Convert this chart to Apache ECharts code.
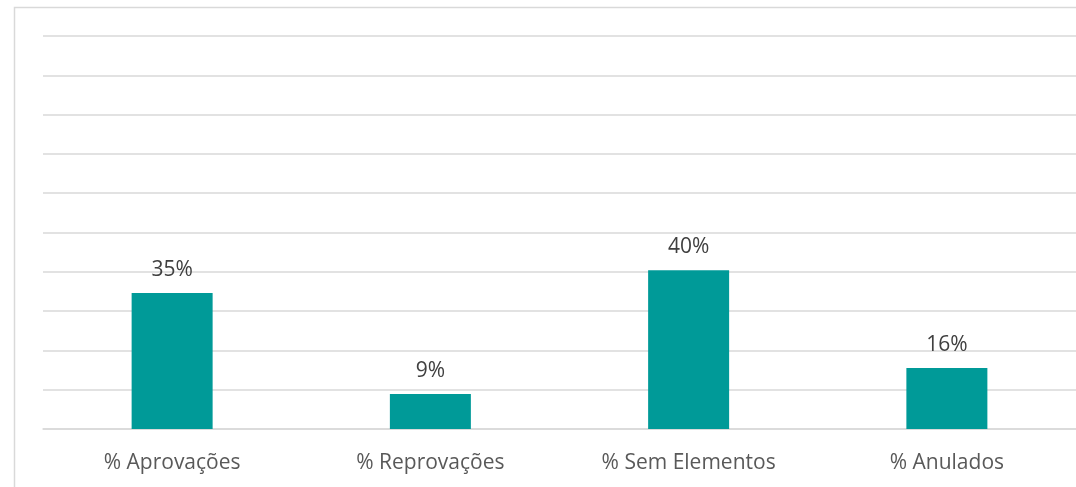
<!DOCTYPE html>
<html>
<head>
<meta charset="utf-8">
<style>
html,body{margin:0;padding:0;background:#fff;}
#c{width:1076px;height:487px;}
</style>
<script src="https://cdn.jsdelivr.net/npm/echarts@6/dist/echarts.min.js"></script>
</head>
<body>
<div id="c"></div>
<script>
const categories = ['% Aprovações', '% Reprovações', '% Sem Elementos', '% Anulados'];
const values = [34.6, 8.9, 40.4, 15.5];

const chart = echarts.init(document.getElementById('c'));
chart.setOption({
  animation: false,
  graphic: [{
    type: 'rect',
    shape: {x: 14.5, y: 7.5, width: 1200, height: 600},
    style: {fill: 'none', stroke: '#d9d9d9', lineWidth: 1.5}
  }],
  grid: {left: 43, top: 36, width: 1036, height: 393},
  xAxis: {
    type: 'category',
    data: categories,
    axisLine: {show: true, lineStyle: {color: '#d9d9d9', width: 1.5}},
    axisTick: {show: false},
    axisLabel: {color: '#595959', fontSize: 21, fontFamily: 'Open Sans, sans-serif', margin: 24}
  },
  yAxis: {
    type: 'value',
    min: 0, max: 100, interval: 10,
    axisLine: {show: false},
    axisTick: {show: false},
    axisLabel: {show: false},
    splitLine: {lineStyle: {color: '#d9d9d9', width: 1.5}}
  },
  series: [{
    type: 'bar',
    data: values,
    barWidth: 81,
    itemStyle: {color: '#009a98'},
    label: {
      show: true,
      position: 'top',
      distance: 13,
      color: '#404040',
      fontSize: 21,
      fontFamily: 'Open Sans, sans-serif',
      formatter: p => Math.round(p.value) + '%'
    }
  }]
});
</script>
</body>
</html>
